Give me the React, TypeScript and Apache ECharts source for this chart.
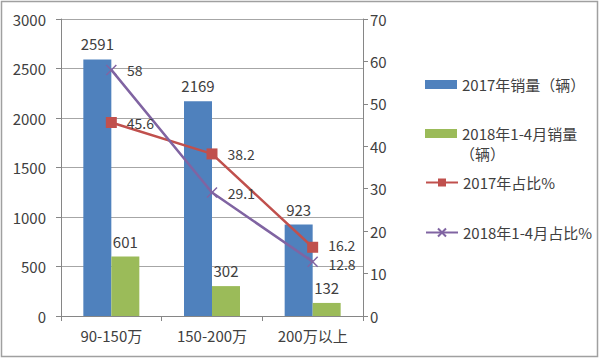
import React, { useEffect, useRef } from "react";
import * as echarts from "echarts";

const categories = ["90-150万", "150-200万", "200万以上"];
const sales2017 = [2591, 2169, 923];
const sales2018 = [601, 302, 132];
const share2017 = [45.6, 38.2, 16.2];
const share2018 = [58, 29.1, 12.8];
const leftTicks = { min: 0, max: 3000, interval: 500 };
const rightTicks = { min: 0, max: 70, interval: 10 };
const seriesNames = ["2017年销量（辆）", "2018年1-4月销量（辆）", "2017年占比%", "2018年1-4月占比%"];

const FONT = "'Noto Sans CJK SC', 'Noto Sans', sans-serif";
const FS = 15;
const TXT = "#404040";
const BLUE = "#4F81BD";
const GREEN = "#9BBB59";
const RED = "#C0504D";
const PURPLE = "#8064A2";
const AXIS = "#868686";
const X_SYMBOL = "path://M0,0L10,10M10,0L0,10";

export default function App() {
  const ref = useRef<HTMLDivElement>(null);
  useEffect(() => {
    document.body.style.margin = "0";
    const chart = echarts.init(ref.current!, undefined, { renderer: "svg" });
    const labelStyle = { color: TXT, fontSize: FS, fontFamily: FONT };
    const lineLabel = { show: true, position: "right", distance: 10, color: TXT, fontSize: 14, fontFamily: FONT, lineHeight: 12 };
    const last = categories.length - 1;
    const redData = share2017.map((v, i) => (i === last ? { value: v, label: { offset: [0, -2] } } : v));
    const purpleData = share2018.map((v, i) => (i === last ? { value: v, label: { offset: [0, 2] } } : v));
    const legendBase = {
      orient: "vertical" as const,
      left: 425,
      padding: 0,
      itemWidth: 32,
      itemHeight: 9,
      textStyle: { color: TXT, fontSize: FS, fontFamily: FONT, lineHeight: 15 },
      selectedMode: false,
    };
    chart.setOption({
      animation: false,
      backgroundColor: "#fff",
      textStyle: { fontFamily: FONT },
      grid: { left: 61, right: 237, top: 19, bottom: 43 },
      legend: [
        { ...legendBase, top: 77, data: [{ name: seriesNames[0], icon: "rect" }] },
        {
          ...legendBase,
          top: 126,
          data: [{ name: seriesNames[1], icon: "rect" }],
          formatter: () => "2018年1-4月销量",
        },
        { ...legendBase, top: 175, itemHeight: 10, data: [{ name: seriesNames[2] }] },
        { ...legendBase, top: 225, itemHeight: 10, data: [{ name: seriesNames[3] }] },
      ],
      xAxis: {
        type: "category",
        data: categories,
        axisLine: { lineStyle: { color: AXIS } },
        axisTick: { show: true, length: 5, lineStyle: { color: AXIS } },
        axisLabel: { ...labelStyle, margin: 12 },
      },
      yAxis: [
        {
          type: "value",
          ...leftTicks,
          axisLine: { show: true, lineStyle: { color: AXIS } },
          axisTick: { show: true, length: 5, lineStyle: { color: AXIS } },
          axisLabel: { ...labelStyle, margin: 15, formatter: (v: number) => String(v) },
          splitLine: { lineStyle: { color: "#a6a6a6" } },
        },
        {
          type: "value",
          ...rightTicks,
          position: "right",
          axisLine: { show: true, lineStyle: { color: AXIS } },
          axisTick: { show: true, length: 5, lineStyle: { color: AXIS } },
          axisLabel: { ...labelStyle, margin: 7 },
          splitLine: { show: false },
        },
      ],
      series: [
        {
          name: seriesNames[0],
          type: "bar",
          data: sales2017,
          barWidth: 28,
          barGap: "0%",
          itemStyle: { color: BLUE },
          label: { show: true, position: "top", distance: 8, ...labelStyle },
        },
        {
          name: seriesNames[1],
          type: "bar",
          data: sales2018,
          barWidth: 28,
          barGap: "0%",
          itemStyle: { color: GREEN },
          label: { show: true, position: "top", distance: 8, ...labelStyle },
        },
        {
          name: seriesNames[2],
          type: "line",
          yAxisIndex: 1,
          data: redData,
          symbol: "rect",
          symbolSize: 11,
          lineStyle: { color: RED, width: 2.5 },
          itemStyle: { color: RED },
          label: lineLabel,
        },
        {
          name: seriesNames[3],
          type: "line",
          yAxisIndex: 1,
          data: purpleData,
          symbol: X_SYMBOL,
          symbolSize: 10,
          lineStyle: { color: PURPLE, width: 2.5 },
          itemStyle: { color: PURPLE, borderColor: PURPLE, borderWidth: 1.5 },
          label: lineLabel,
          z: 3,
        },
      ],
      graphic: [
        {
          type: "text",
          left: 460,
          top: 146,
          style: { text: "（辆）", fill: TXT, font: `${FS}px ${FONT}`, lineHeight: 15 },
          silent: true,
        },
        {
          type: "rect",
          shape: { x: 1.5, y: 1.5, width: 596, height: 355 },
          style: { fill: "none", stroke: "#a0a0a0", lineWidth: 1.5 },
          silent: true,
        },
      ],
    });
    return () => chart.dispose();
  }, []);
  return <div ref={ref} style={{ width: 600, height: 359 }} />;
}
